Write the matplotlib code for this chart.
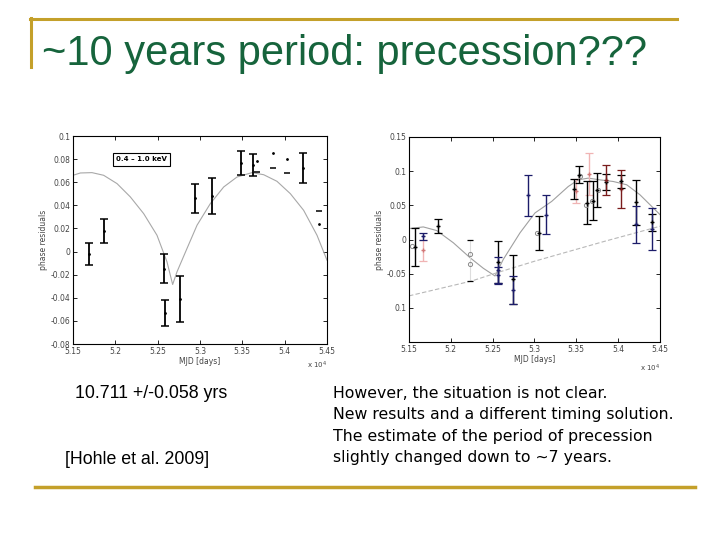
import matplotlib.pyplot as plt
from matplotlib.lines import Line2D

# --- slide text ---
title = "~10 years period: precession???"
left_notes = ["10.711 +/-0.058 yrs", "[Hohle et al. 2009]"]
right_notes = [
    "However, the situation is not clear.",
    "New results and a different timing solution.",
    "The estimate of the period of precession",
    "slightly changed down to ~7 years.",
]

# --- left panel (Hohle et al. 2009), MJD in units of 1e4 days ---
left_t = [5.1685, 5.187, 5.258, 5.259, 5.276, 5.294, 5.3146, 5.348, 5.3626, 5.4216]
left_y = [-0.002, 0.018, -0.0147, -0.053, -0.041, 0.046, 0.048, 0.077, 0.0746, 0.0723]
left_err = [0.0098, 0.0102, 0.0124, 0.011, 0.0197, 0.0125, 0.0154, 0.0104, 0.0094, 0.0127]

# points whose bars are washed out in the scan (dot + one cap)
left_faint_t = [5.3677, 5.3866, 5.4031, 5.4409]
left_faint_y = [0.0786, 0.085, 0.0801, 0.0236]
left_faint_err = [0.0095, 0.013, 0.0124, -0.0115]

left_fit_t = [5.15, 5.1587, 5.1724, 5.1862, 5.2020, 5.2177, 5.2335, 5.2492, 5.2610,
              5.2677, 5.2728, 5.2846, 5.2965, 5.3122, 5.3280, 5.3437, 5.3614, 5.3752,
              5.3909, 5.4067, 5.4224, 5.4382, 5.45]
left_fit_y = [0.0660, 0.0680, 0.0683, 0.0660, 0.0588, 0.0473, 0.0328, 0.0141, -0.0089,
              -0.0285, -0.0176, 0.0026, 0.0228, 0.0415, 0.0559, 0.0645, 0.0683, 0.0665,
              0.0608, 0.0501, 0.0357, 0.0141, -0.0075]

left_yticks = [-0.08, -0.06, -0.04, -0.02, 0, 0.02, 0.04, 0.06, 0.08, 0.1]
left_yticklabels = ["-0.08", "-0.06", "-0.04", "-0.02", "0", "0.02", "0.04", "0.06", "0.08", "0.1"]
xticks = [5.15, 5.2, 5.25, 5.3, 5.35, 5.4, 5.45]
xticklabels = ["5.15", "5.2", "5.25", "5.3", "5.35", "5.4", "5.45"]

# --- right panel (newer timing solution) ---
black_t = [5.1572, 5.185, 5.2568, 5.2739, 5.3054, 5.347, 5.353, 5.363, 5.370, 5.375,
           5.3855, 5.403, 5.421, 5.4408]
black_y = [-0.011, 0.020, -0.033, -0.058, 0.0097, 0.074, 0.095, 0.054, 0.057, 0.073,
           0.084, 0.085, 0.0546, 0.025]
black_err = [0.028, 0.010, 0.031, 0.036, 0.025, 0.014, 0.012, 0.031, 0.028, 0.025,
             0.012, 0.010, 0.033, 0.012]

navy_t = [5.167, 5.2568, 5.2568, 5.2739, 5.2926, 5.3137, 5.421, 5.4408]
navy_y = [0.005, -0.045, -0.052, -0.074, 0.065, 0.0364, 0.022, 0.015]
navy_err = [0.005, 0.02, 0.012, 0.021, 0.030, 0.029, 0.027, 0.031]

red_t = [5.3855, 5.403]
red_y = [0.087, 0.074]
red_err = [0.022, 0.028]

pink_t = [5.167, 5.350, 5.365]
pink_y = [-0.016, 0.071, 0.096]
pink_err = [0.016, 0.017, 0.031]

circle_t = [5.154, 5.2229, 5.2229, 5.3026, 5.354, 5.362, 5.369, 5.376]
circle_y = [-0.0097, -0.0218, -0.0364, 0.0097, 0.093, 0.050, 0.057, 0.073]

right_faint_t = [5.2229]
right_faint_y = [-0.03]
right_faint_err = [0.03]

right_fit_t = [5.15, 5.1671, 5.1831, 5.2030, 5.2229, 5.2388, 5.2528, 5.2627, 5.2827,
               5.3006, 5.3205, 5.3404, 5.3523, 5.3643, 5.3782, 5.3941, 5.4102, 5.4260, 5.45]
right_fit_y = [0.016, 0.0184, 0.0131, -0.0048, -0.0266, -0.0421, -0.0534, -0.0291, 0.0098,
               0.0389, 0.0557, 0.0776, 0.0873, 0.0898, 0.0873, 0.0849, 0.0801, 0.0655, 0.0364]

trend_t = [5.15, 5.225, 5.2568, 5.3006, 5.3842, 5.45]
trend_y = [-0.0825, -0.0607, -0.048, -0.0316, -0.0025, 0.0194]

right_yticks = [-0.15, -0.1, -0.05, 0, 0.05, 0.1, 0.15]
right_yticklabels = ["", "0.1", "-0.05", "0", "0.05", "0.1", "0.15"]

GOLD = "#C4A02A"
GREEN = "#16643C"
TICK = "#444444"

fig = plt.figure(figsize=(7.2, 5.4), dpi=100)
W, H = 720.0, 540.0


def px_axes(x0, y0, x1, y1):
    return fig.add_axes([x0 / W, 1 - y1 / H, (x1 - x0) / W, (y1 - y0) / H])


def style_axes(ax, yticks, ylabels, ylim):
    ax.set_xlim(5.15, 5.45)
    ax.set_ylim(*ylim)
    ax.set_xticks(xticks)
    ax.set_xticklabels(xticklabels)
    ax.set_yticks(yticks)
    ax.set_yticklabels(ylabels)
    ax.tick_params(direction="in", length=3, width=0.6, labelsize=5.5, pad=2,
                   labelcolor=TICK, top=True, right=True)
    for s in ax.spines.values():
        s.set_linewidth(0.8)
    ax.set_xlabel("MJD [days]", fontsize=5.5, color=TICK, labelpad=1)
    ax.set_ylabel("phase residuals", fontsize=5.5, color=TICK, labelpad=2)


# title block
fig.add_artist(Line2D([30 / W, 677 / W], [1 - 18.5 / H] * 2, color=GOLD, lw=2.2))
fig.add_artist(Line2D([30.5 / W] * 2, [1 - 18 / H, 1 - 67 / H], color=GOLD, lw=2.2))
fig.text(42 / W, 1 - 65 / H, title, fontsize=30, color=GREEN,
         family="Liberation Sans", ha="left", va="baseline")
fig.add_artist(Line2D([35 / W, 695 / W], [1 - 487 / H] * 2, color=GOLD, lw=2.5))

# left panel
ax1 = px_axes(73, 136, 327, 344)
ax1.plot(left_fit_t, left_fit_y, color="#a8a8a8", lw=0.8)
ax1.errorbar(left_t, left_y, yerr=left_err, fmt=".", ms=2, color="black",
             ecolor="black", elinewidth=1.3, capsize=3, capthick=1.1)
ax1.plot(left_faint_t, left_faint_y, ".", ms=2, color="black")
ax1.plot(left_faint_t, [y - e for y, e in zip(left_faint_y, left_faint_err)], "_",
         ms=4, mew=1.1, color="black")
style_axes(ax1, left_yticks, left_yticklabels, (-0.08, 0.1))
ax1.text(0.27, 0.889, "0.4 \u2013 1.0 keV", transform=ax1.transAxes, fontsize=5,
         fontweight="bold", ha="center", va="center",
         bbox=dict(boxstyle="square,pad=0.5", fc="white", ec="black", lw=0.8))
ax1.text(1.0, -0.075, "x 10$^4$", transform=ax1.transAxes, fontsize=5,
         color=TICK, ha="right", va="top")

# right panel
ax2 = px_axes(409, 137, 660, 342)
ax2.plot(right_fit_t, right_fit_y, color="#a0a0a0", lw=0.8)
ax2.plot(trend_t, trend_y, color="#b8b8b8", lw=0.8, ls=(0, (4, 2)))
ax2.vlines(right_faint_t, [y - e for y, e in zip(right_faint_y, right_faint_err)],
           [y + e for y, e in zip(right_faint_y, right_faint_err)], color="#dddddd", lw=0.8)
ax2.plot(right_faint_t, [y + e for y, e in zip(right_faint_y, right_faint_err)], "_",
         ms=4, mew=0.9, color="black")
ax2.plot(right_faint_t, [y - e for y, e in zip(right_faint_y, right_faint_err)], "_",
         ms=4, mew=0.9, color="black")
ax2.errorbar(pink_t, pink_y, yerr=pink_err, fmt="+", ms=3, color="#d27878",
             ecolor="#f0b4b4", elinewidth=1.0, capsize=2.8, capthick=0.9)
ax2.errorbar(black_t, black_y, yerr=black_err, fmt="+", ms=3, color="black",
             ecolor="black", elinewidth=1.0, capsize=2.8, capthick=0.9)
ax2.errorbar(navy_t, navy_y, yerr=navy_err, fmt="+", ms=3, color="#1c1c6a",
             ecolor="#1c1c6a", elinewidth=1.0, capsize=2.8, capthick=0.9)
ax2.errorbar(red_t, red_y, yerr=red_err, fmt="+", ms=3, color="#7a1c1c",
             ecolor="#7a1c1c", elinewidth=1.0, capsize=2.8, capthick=0.9)
ax2.plot(circle_t, circle_y, "o", ms=3, mfc="none", mec="#8a8a8a", mew=0.7)
style_axes(ax2, right_yticks, right_yticklabels, (-0.15, 0.15))
ax2.text(1.0, -0.1, "x 10$^4$", transform=ax2.transAxes, fontsize=5,
         color=TICK, ha="right", va="top")

# notes under the plots
fig.text(75 / W, 1 - 393 / H, left_notes[0], fontsize=12.8, family="Liberation Sans",
         ha="left", va="center")
fig.text(65 / W, 1 - 460 / H, left_notes[1], fontsize=12.8, family="Liberation Sans",
         ha="left", va="center")
for i, line in enumerate(right_notes):
    fig.text(333 / W, 1 - (393 + 21.5 * i) / H, line, fontsize=11.3,
             family="DejaVu Sans", ha="left", va="center")

fig.savefig("out.png", dpi=100)
